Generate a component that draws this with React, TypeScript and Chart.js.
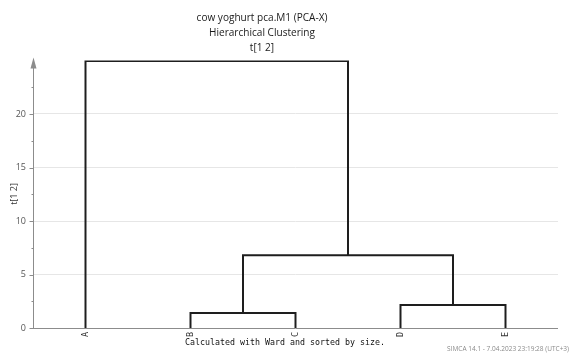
import React, { useEffect, useRef } from "react";
import { Chart, registerables } from "chart.js";

Chart.register(...registerables);

const titleLines = ["cow yoghurt pca.M1 (PCA-X)", "Hierarchical Clustering", "t[1 2]"];
const yAxisTitle = "t[1 2]";
const caption = "Calculated with Ward and sorted by size.";
const footer = "SIMCA 14.1 - 7.04.2023 23:19:28 (UTC+3)";

// leaves in display order
const leaves = ["A", "B", "C", "D", "E"];
// merges: [left node, right node, height]; nodes 0..4 are leaves, 5.. are merges in order
const mergeLeft = [1, 3, 5, 0];
const mergeRight = [2, 4, 6, 7];
const mergeHeight = [1.4, 2.15, 6.8, 24.95];

const yTicks = [0, 2.5, 5, 7.5, 10, 12.5, 15, 17.5, 20, 22.5, 25];

function buildSegments() {
  const nodeX: number[] = leaves.map((_, i) => i);
  const nodeY: number[] = leaves.map(() => 0);
  const segs: { x: number; y: number }[][] = [];
  for (let i = 0; i < mergeLeft.length; i++) {
    const l = mergeLeft[i];
    const r = mergeRight[i];
    const h = mergeHeight[i];
    segs.push([
      { x: nodeX[l], y: nodeY[l] },
      { x: nodeX[l], y: h },
      { x: nodeX[r], y: h },
      { x: nodeX[r], y: nodeY[r] },
    ]);
    nodeX.push((nodeX[l] + nodeX[r]) / 2);
    nodeY.push(h);
  }
  return segs;
}

function fitFont(ctx: CanvasRenderingContext2D, text: string, family: string, target: number, base: number) {
  ctx.font = `${base}px ${family}`;
  const w = ctx.measureText(text).width;
  const size = (base * target) / w;
  return `${size.toFixed(2)}px ${family}`;
}

const decor = {
  id: "decor",
  beforeDatasetsDraw(chart: any) {
    const { ctx, chartArea } = chart;
    const ys = chart.scales.y;
    ctx.save();
    ctx.strokeStyle = "#8c8c8c";
    ctx.lineWidth = 1;
    ctx.beginPath();
    ctx.moveTo(chartArea.left, Math.round(chartArea.bottom) + 0.5);
    ctx.lineTo(chartArea.right, Math.round(chartArea.bottom) + 0.5);
    ctx.stroke();
    const ax = Math.round(chartArea.left) + 0.5;
    ctx.beginPath();
    ctx.moveTo(ax, chartArea.bottom);
    ctx.lineTo(ax, chartArea.top + 2);
    ctx.stroke();
    ctx.fillStyle = "#8c8c8c";
    ctx.beginPath();
    ctx.moveTo(ax, chartArea.top - 3);
    ctx.lineTo(ax - 3, chartArea.top + 8);
    ctx.lineTo(ax + 3, chartArea.top + 8);
    ctx.closePath();
    ctx.fill();
    yTicks.forEach((v) => {
      if (v >= 25) return;
      const py = Math.round(ys.getPixelForValue(v)) + 0.5;
      const len = v % 5 === 0 ? 4 : 2;
      ctx.beginPath();
      ctx.moveTo(ax - len, py);
      ctx.lineTo(ax, py);
      ctx.stroke();
    });
    ctx.restore();
  },
  afterDraw(chart: any) {
    const { ctx } = chart;
    ctx.save();
    ctx.fillStyle = "#1a1a1a";
    ctx.textAlign = "center";
    ctx.textBaseline = "middle";
    const tf = fitFont(ctx, titleLines[0], "'Open Sans'", 131, 12);
    ctx.font = tf;
    titleLines.forEach((t, i) => ctx.fillText(t, 262, 18 + i * 15));
    ctx.save();
    ctx.translate(14, 194);
    ctx.rotate(-Math.PI / 2);
    ctx.font = "9px 'Open Sans'";
    ctx.fillStyle = "#333";
    ctx.fillText(yAxisTitle, 0, 0);
    ctx.restore();
    ctx.font = fitFont(ctx, caption, "'DejaVu Sans Mono'", 200, 9);
    ctx.fillStyle = "#111";
    ctx.fillText(caption, 285, 343);
    ctx.font = fitFont(ctx, footer, "'Open Sans'", 122, 7);
    ctx.fillStyle = "#8a8a8a";
    ctx.textAlign = "right";
    ctx.fillText(footer, 569, 349);
    ctx.restore();
  },
};

export default function App() {
  const ref = useRef<HTMLCanvasElement>(null);
  useEffect(() => {
    document.body.style.margin = "0";
    const segs = buildSegments();
    const chart = new Chart(ref.current!, {
      type: "scatter",
      data: {
        datasets: segs.map((s) => ({
          data: s,
          showLine: true,
          borderColor: "#1e1e1e",
          borderWidth: 2,
          pointRadius: 0,
          fill: false,
          tension: 0,
        })),
      },
      options: {
        animation: false,
        responsive: true,
        maintainAspectRatio: false,
        layout: { padding: { top: 60.5, right: 12, left: 0, bottom: 0 } },
        plugins: { legend: { display: false }, tooltip: { enabled: false }, title: { display: false } },
        scales: {
          x: {
            type: "linear",
            min: -0.5,
            max: 4.5,
            afterBuildTicks: (s: any) => {
              s.ticks = leaves.map((_, i) => ({ value: i }));
            },
            afterFit: (s: any) => {
              s.height = 25;
            },
            grid: { display: false, drawTicks: false },
            border: { display: false },
            ticks: {
              autoSkip: false,
              minRotation: 90,
              maxRotation: 90,
              padding: 4,
              color: "#333",
              font: { family: "'DejaVu Sans Mono'", size: 8.5 },
              callback: (v: any) => leaves[v as number] ?? "",
            },
          },
          y: {
            type: "linear",
            min: 0,
            max: 25,
            afterBuildTicks: (s: any) => {
              s.ticks = yTicks.map((v) => ({ value: v }));
            },
            afterFit: (s: any) => {
              s.width = 33;
            },
            grid: {
              drawTicks: false,
              color: (c: any) => {
                const v = c.tick ? c.tick.value : 0;
                return v % 5 === 0 && v > 0 && v < 25 ? "#e6e6e6" : "rgba(0,0,0,0)";
              },
            },
            border: { display: false },
            ticks: {
              autoSkip: false,
              padding: 7,
              color: "#555",
              font: { family: "'Open Sans'", size: 9 },
              callback: (v: any) => (v % 5 === 0 && v < 25 ? String(v) : ""),
            },
          },
        },
      },
      plugins: [decor],
    } as any);
    return () => chart.destroy();
  }, []);
  return (
    <div style={{ width: 570, height: 353, position: "relative" }}>
      <canvas ref={ref} />
    </div>
  );
}
